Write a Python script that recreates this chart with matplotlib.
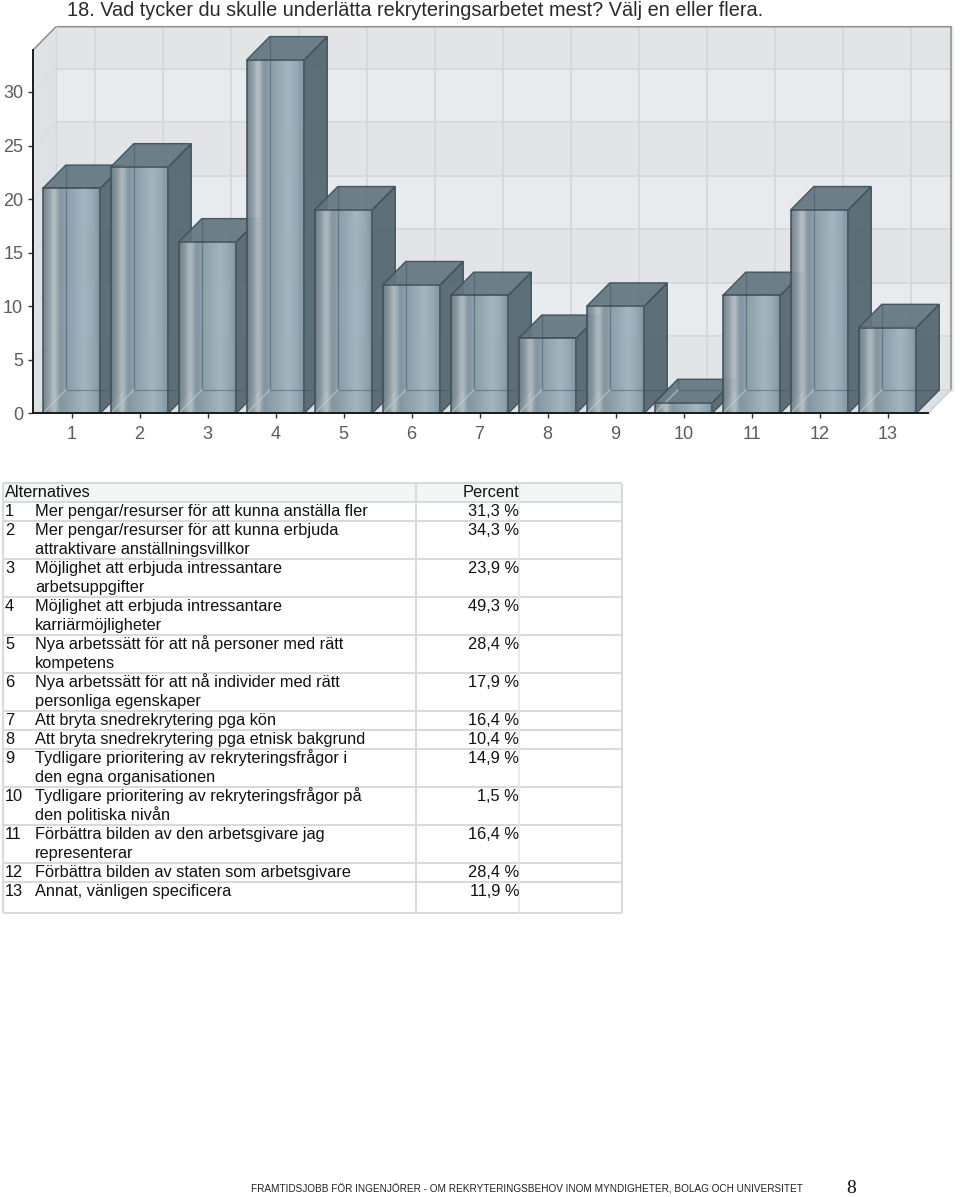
import numpy as np
import matplotlib
matplotlib.use("Agg")
import matplotlib.pyplot as plt
from matplotlib.colors import LinearSegmentedColormap
from matplotlib.patches import Polygon, Rectangle

plt.rcParams['font.family'] = ['Liberation Sans', 'DejaVu Sans']

title = "18. Vad tycker du skulle underlätta rekryteringsarbetet mest? Välj en eller flera."
categories = list(range(1, 13 + 1))
counts = [21, 23, 16, 33, 19, 12, 11, 7, 10, 1, 11, 19, 8]
y_ticks = [0, 5, 10, 15, 20, 25, 30]

alternatives = [
    "Mer pengar/resurser för att kunna anställa fler",
    "Mer pengar/resurser för att kunna erbjuda\nattraktivare anställningsvillkor",
    "Möjlighet att erbjuda intressantare\narbetsuppgifter",
    "Möjlighet att erbjuda intressantare\nkarriärmöjligheter",
    "Nya arbetssätt för att nå personer med rätt\nkompetens",
    "Nya arbetssätt för att nå individer med rätt\npersonliga egenskaper",
    "Att bryta snedrekrytering pga kön",
    "Att bryta snedrekrytering pga etnisk bakgrund",
    "Tydligare prioritering av rekryteringsfrågor i\nden egna organisationen",
    "Tydligare prioritering av rekryteringsfrågor på\nden politiska nivån",
    "Förbättra bilden av den arbetsgivare jag\nrepresenterar",
    "Förbättra bilden av staten som arbetsgivare",
    "Annat, vänligen specificera",
]
percents = ["31,3 %", "34,3 %", "23,9 %", "49,3 %", "28,4 %", "17,9 %", "16,4 %",
            "10,4 %", "14,9 %", "1,5 %", "16,4 %", "28,4 %", "11,9 %"]
footer = "FRAMTIDSJOBB FÖR INGENJÖRER - OM REKRYTERINGSBEHOV INOM MYNDIGHETER, BOLAG OCH UNIVERSITET"
page_number = "8"

W, H = 960, 1197
fig = plt.figure(figsize=(W / 100, H / 100), dpi=100, facecolor="white")

# Overlay in pixel coordinates for the page furniture and the table
page = fig.add_axes([0, 0, 1, 1], zorder=0)
page.set_xlim(0, W)
page.set_ylim(H, 0)
page.axis("off")

# Chart axes
PX_L, PX_R, PX_T, PX_B = 33, 928, 50, 413.3
UX, UY = 68.0, 10.71
ax = fig.add_axes([PX_L / W, 1 - PX_B / H, (PX_R - PX_L) / W, (PX_B - PX_T) / H], zorder=1)
xlim = (1 + (PX_L - 71.5) / UX, 1 + (PX_R - 71.5) / UX)
ylim = (0, (PX_B - PX_T) / UY)
ax.patch.set_alpha(0)
dx, dy = 23.0 / UX, 23.3 / UY
x0, x1 = xlim
y0, y1 = ylim

# Walls
band_a, band_b = "#e8ebee", "#e3e4e6"
edges = [0, 5, 10, 15, 20, 25, 30, y1]
for i in range(len(edges) - 1):
    c = band_b if i % 2 == 0 else band_a
    ax.add_patch(Polygon([(x0 + dx, edges[i] + dy), (x1 + dx, edges[i] + dy),
                          (x1 + dx, edges[i + 1] + dy), (x0 + dx, edges[i + 1] + dy)],
                         fc=c, ec="none", clip_on=False, zorder=1))
ax.add_patch(Polygon([(x0, y0), (x0 + dx, dy), (x0 + dx, y1 + dy), (x0, y1)],
                     fc="#dfe2e4", ec="none", clip_on=False, zorder=1))
ax.add_patch(Polygon([(x0, y0), (x0 + dx, dy), (x1 + dx, dy), (x1, y0)],
                     fc="#dae0e3", ec="none", clip_on=False, zorder=1))
grid = "#d6d8db"
for v in y_ticks:
    ax.plot([x0 + dx, x1 + dx], [v + dy, v + dy], color=grid, lw=1.4, clip_on=False, zorder=2)
    ax.plot([x0, x0 + dx], [v, v + dy], color="#d9dcde", lw=1, clip_on=False, zorder=2)
for c in categories:
    ax.plot([c + dx, c + dx], [dy, y1 + dy], color=grid, lw=1.4, clip_on=False, zorder=2)
ax.plot([x0, x0 + dx, x1 + dx, x1 + dx], [y1, y1 + dy, y1 + dy, dy], color="#8b8d8f", lw=1.1,
        clip_on=False, zorder=2)
ax.plot([x0 + dx, x0 + dx], [dy, y1 + dy], color="#d3d6d8", lw=1, clip_on=False, zorder=2)
ax.plot([x1, x1 + dx], [0, dy], color="#cdd1d3", lw=1, clip_on=False, zorder=2)
# soft shadow to the right of the wall
ax.plot([x1 + dx + 0.02, x1 + dx + 0.02], [dy, y1 + dy], color="#ececec", lw=2, clip_on=False, zorder=1)

# Bars
cmap = LinearSegmentedColormap.from_list("bar", [
    (0.00, "#6f808a"), (0.10, "#8d9ca4"), (0.19, "#b7c1c4"), (0.29, "#7f929d"),
    (0.45, "#8a9ea9"), (0.72, "#a0b3bd"), (0.88, "#90a4af"), (1.00, "#7a8e99")])
grad = np.linspace(0, 1, 128).reshape(1, -1)
half = 0.845 / 2
edge = "#3c4f59"
for i, (c, v) in enumerate(zip(categories, counts)):
    z = 10 + i
    l, r = c - half, c + half
    ax.add_patch(Polygon([(r, 0), (r + dx, dy), (r + dx, v + dy), (r, v)], fc="#566871", ec=edge,
                         lw=1, alpha=0.95, clip_on=False, zorder=z))
    ax.add_patch(Polygon([(l, v), (r, v), (r + dx, v + dy), (l + dx, v + dy)], fc="#627680", ec=edge,
                         lw=1, alpha=0.92, clip_on=False, zorder=z))
    im = ax.imshow(grad, cmap=cmap, extent=(l, r, 0, v), aspect="auto", alpha=0.95,
                   interpolation="bilinear", zorder=z + 0.2)
    im.set_clip_on(False)
    ax.add_patch(Rectangle((l, 0), 2 * half, v, fc="none", ec=edge, lw=1.1, clip_on=False, zorder=z + 0.4))
    ax.plot([l + dx, l + dx, r + dx], [v + dy, dy, dy], color=edge, lw=0.9, alpha=0.45,
            clip_on=False, zorder=z + 0.3)
    ax.plot([l, l + dx], [0, dy], color="#c2cdd1", lw=1.2, alpha=0.6, clip_on=False, zorder=z + 0.3)

ax.set_xlim(x0, x1)
ax.set_ylim(y0, y1)
ax.set_xticks(categories)
ax.set_yticks(y_ticks)
ax.grid(False)
for s in ("top", "right"):
    ax.spines[s].set_visible(False)
for s in ("left", "bottom"):
    ax.spines[s].set_linewidth(1.4)
    ax.spines[s].set_color("#1b1b1b")
    ax.spines[s].set_zorder(40)
ax.tick_params(axis="both", length=3.6, width=1, color="#333333", labelcolor="#5c5c5c", labelsize=13)
ax.tick_params(axis="x", pad=5.5)
ax.tick_params(axis="y", pad=3.5)

# Title
page.text(67, 15.5, title, fontsize=14.3, color="#2a2a2a", va="baseline", ha="left")

# Table
TL, TC1, TC2, TR = 3, 416, 519, 622
line_h, font = 19.0, 11.8
border = "#d6dbde"
top = 482.5
base = 14.5
row_top = top + line_h
page.add_patch(Rectangle((TL, top), TR - TL, line_h, fc="#f3f6f7", ec="none"))
page.text(5, top + base, "Alternatives", fontsize=font, va="baseline", color="#111111")
page.text(TC2, top + base, "Percent", fontsize=font, va="baseline", ha="right", color="#111111")
rules = [top, row_top]
for c, alt, pct in zip(categories, alternatives, percents):
    lines = alt.split("\n")
    yb = row_top + base
    page.text(5, yb, str(c), fontsize=font, va="baseline", color="#111111")
    page.text(TC2, yb, pct, fontsize=font, va="baseline", ha="right", color="#111111")
    for j, t in enumerate(lines):
        page.text(35, yb + j * line_h, t, fontsize=font, va="baseline", color="#111111")
    row_top += line_h * len(lines)
    rules.append(row_top)
rules[-1] += 12
for y in rules:
    page.plot([TL, TR], [y, y], color=border, lw=1.5, solid_capstyle="butt")
for x in (TL, TC1, TR):
    page.plot([x, x], [top, rules[-1]], color=border, lw=1.5, solid_capstyle="butt")
page.plot([TC2, TC2], [top, rules[-1]], color="#e4e8ea", lw=1.2, solid_capstyle="butt")

# Footer
page.text(251, 1193, footer, fontsize=7.24, va="baseline", ha="left", color="#222222")
page.text(851, 1193, page_number, fontsize=14, va="baseline", ha="center", color="#111111",
          family="Liberation Serif")

fig.savefig("out.png", dpi=100)
